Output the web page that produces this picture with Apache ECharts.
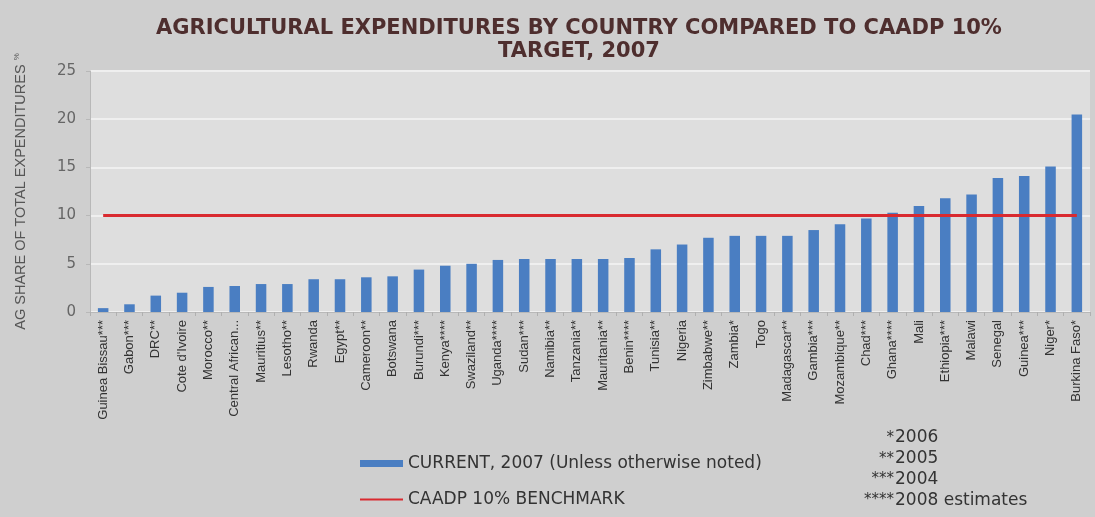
<!DOCTYPE html>
<html>
<head>
<meta charset="utf-8">
<script src="https://cdn.jsdelivr.net/npm/echarts@6/dist/echarts.min.js"></script>
<style>
  html, body { margin: 0; padding: 0; background: #cfcfcf; }
  #chart { width: 1095px; height: 517px; }
</style>
</head>
<body>
<div id="chart"></div>
<script>
// Countries, ordered by agricultural share of total public spending
const countries = [
  "Guinea Bissau***", "Gabon***", "DRC**", "Cote d'Ivoire", "Morocco**",
  "Central African...", "Mauritius**", "Lesotho**", "Rwanda", "Egypt**",
  "Cameroon**", "Botswana", "Burundi***", "Kenya****", "Swaziland**",
  "Uganda****", "Sudan***", "Namibia**", "Tanzania**", "Mauritania**",
  "Benin****", "Tunisia**", "Nigeria", "Zimbabwe**", "Zambia*", "Togo",
  "Madagascar**", "Gambia***", "Mozambique**", "Chad***", "Ghana****",
  "Mali", "Ethiopia***", "Malawi", "Senegal", "Guinea***", "Niger*",
  "Burkina Faso*"
];

// Agricultural expenditure share (%), 2007 unless noted
const agShare = [
  0.4, 0.8, 1.7, 2.0, 2.6,
  2.7, 2.9, 2.9, 3.4, 3.4,
  3.6, 3.7, 4.4, 4.8, 5.0,
  5.4, 5.5, 5.5, 5.5, 5.5,
  5.6, 6.5, 7.0, 7.7, 7.9, 7.9,
  7.9, 8.5, 9.1, 9.7, 10.3,
  11.0, 11.8, 12.2, 13.9, 14.1, 15.1,
  20.5
];

// CAADP 10% benchmark
const benchmarkLevel = 10;
const benchmark = countries.map(() => benchmarkLevel);

// Y-axis ticks
const yTicks = [0, 5, 10, 15, 20, 25];

// Footnote keys
const footnotes = [
  ["*", "2006"],
  ["**", "2005"],
  ["***", "2004"],
  ["****", "2008 estimates"]
];

const FONT = "'Liberation Sans', Arial, sans-serif";
const WIDE = "'DejaVu Sans', Verdana, sans-serif";

const chart = echarts.init(document.getElementById('chart'));

// Footnote lines: stars right-aligned, years left-aligned on a shared edge
const footGraphics = [];
footnotes.forEach((f, i) => {
  const y = 438 + i * 20.7;
  footGraphics.push({
    type: 'text', x: 894, y: y,
    style: { text: f[0], textAlign: 'right', textVerticalAlign: 'middle',
             fill: '#333', font: '15px ' + WIDE }
  });
  footGraphics.push({
    type: 'text', x: 895, y: y,
    style: { text: f[1], textAlign: 'left', textVerticalAlign: 'middle',
             fill: '#333', font: '17px ' + WIDE }
  });
});

chart.setOption({
  backgroundColor: '#cfcfcf',
  animation: false,
  title: {
    text: 'AGRICULTURAL EXPENDITURES BY COUNTRY COMPARED TO CAADP 10%\nTARGET, 2007',
    left: 574,
    textAlign: 'center',
    top: 12,
    textStyle: {
      fontFamily: WIDE,
      fontSize: 21,
      fontWeight: 'bold',
      color: '#4e2e2e',
      lineHeight: 23
    }
  },
  legend: {
    orient: 'vertical',
    left: 355,
    top: 450,
    itemGap: 19,
    itemWidth: 43,
    itemHeight: 7,
    textStyle: { fontFamily: WIDE, fontSize: 17, color: '#333' },
    data: [
      { name: 'CURRENT, 2007 (Unless otherwise noted)', icon: 'rect' },
      { name: 'CAADP 10% BENCHMARK', icon: 'path://M0,0 L43,0 L43,2 L0,2 Z' }
    ]
  },
  grid: {
    left: 90, right: 5, top: 71, bottom: 205,
    show: true, backgroundColor: '#dedede', borderWidth: 0
  },
  xAxis: {
    type: 'category',
    data: countries,
    axisLine: { lineStyle: { color: '#b8b8b8' } },
    axisTick: { show: true, length: 4, lineStyle: { color: '#b0b0b0' } },
    axisLabel: {
      rotate: 90, interval: 0, margin: 8,
      fontFamily: FONT, fontSize: 13, color: '#333'
    }
  },
  yAxis: {
    type: 'value',
    min: yTicks[0],
    max: yTicks[yTicks.length - 1],
    interval: 5,
    name: 'AG SHARE OF TOTAL EXPENDITURES {s|%}',
    nameLocation: 'middle',
    nameRotate: 90,
    nameGap: 62,
    nameTextStyle: {
      fontFamily: FONT, fontSize: 14.5, color: '#555',
      rich: { s: { fontSize: 8, color: '#555', verticalAlign: 'top' } }
    },
    axisLine: { show: true, lineStyle: { color: '#b8b8b8' } },
    axisTick: { show: true, length: 4, lineStyle: { color: '#b8b8b8' } },
    axisLabel: { margin: 14, fontFamily: WIDE, fontSize: 15, color: '#666' },
    splitLine: { lineStyle: { color: '#efefef', width: 2 } }
  },
  graphic: footGraphics,
  series: [
    {
      name: 'CURRENT, 2007 (Unless otherwise noted)',
      type: 'bar',
      data: agShare,
      barWidth: '40%',
      itemStyle: { color: '#4a7ec2' }
    },
    {
      name: 'CAADP 10% BENCHMARK',
      type: 'line',
      data: benchmark,
      showSymbol: false,
      symbol: 'none',
      lineStyle: { color: '#d92a30', width: 3 },
      itemStyle: { color: '#d92a30' },
      z: 3
    }
  ]
});
</script>
</body>
</html>
